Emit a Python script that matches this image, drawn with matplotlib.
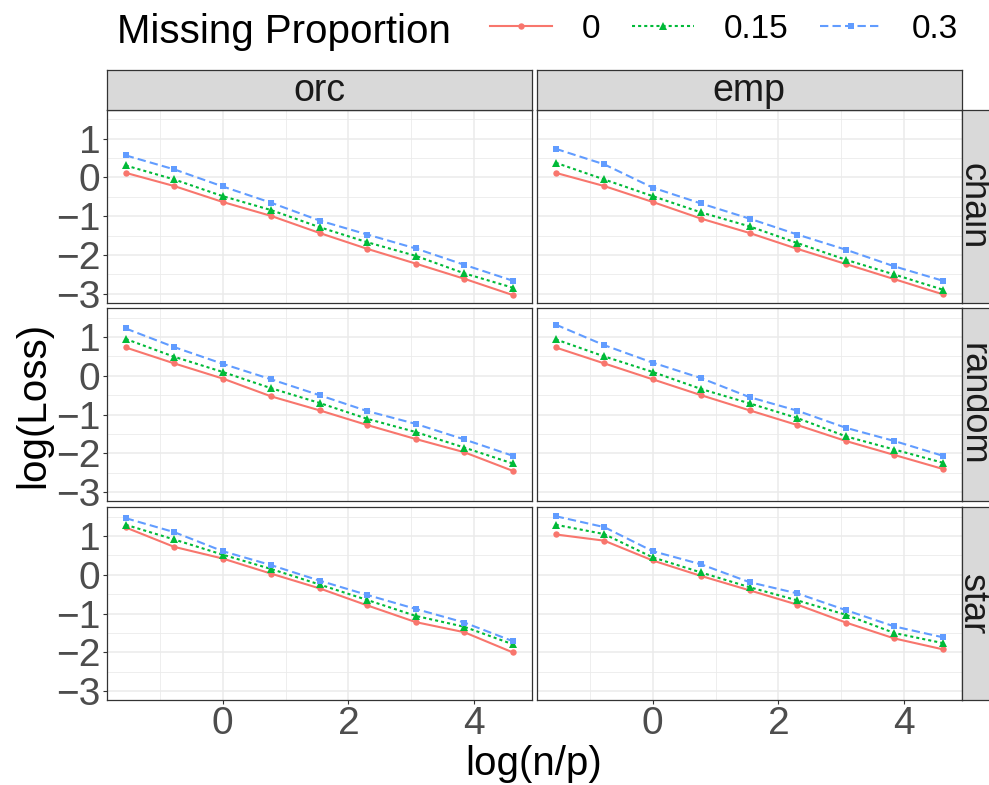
import matplotlib.pyplot as plt

plt.rcParams['font.family'] = ['Liberation Sans', 'DejaVu Sans']
plt.rcParams['lines.scale_dashes'] = False

# x positions: log(n/p)
log_np = [-1.54, -0.77, 0.0, 0.77, 1.54, 2.30, 3.07, 3.84, 4.61]

props = ['0', '0.15', '0.3']
methods = ['orc', 'emp']
graphs = ['chain', 'random', 'star']

# log(Loss), one list per missing proportion
chain_orc_0 = [0.12, -0.22, -0.63, -0.99, -1.43, -1.84, -2.22, -2.61, -3.03]
chain_orc_15 = [0.31, -0.05, -0.48, -0.84, -1.28, -1.67, -2.02, -2.47, -2.84]
chain_orc_30 = [0.57, 0.21, -0.23, -0.65, -1.11, -1.47, -1.83, -2.25, -2.66]

chain_emp_0 = [0.12, -0.22, -0.63, -1.06, -1.43, -1.84, -2.23, -2.62, -3.01]
chain_emp_15 = [0.38, -0.05, -0.48, -0.90, -1.26, -1.69, -2.12, -2.50, -2.89]
chain_emp_30 = [0.74, 0.34, -0.26, -0.67, -1.06, -1.47, -1.86, -2.29, -2.66]

random_orc_0 = [0.73, 0.32, -0.07, -0.53, -0.89, -1.27, -1.63, -1.97, -2.45]
random_orc_15 = [0.95, 0.49, 0.10, -0.32, -0.70, -1.11, -1.45, -1.85, -2.26]
random_orc_30 = [1.22, 0.74, 0.31, -0.09, -0.50, -0.91, -1.24, -1.64, -2.06]

random_emp_0 = [0.73, 0.32, -0.09, -0.50, -0.89, -1.27, -1.68, -2.04, -2.40]
random_emp_15 = [0.94, 0.50, 0.10, -0.34, -0.71, -1.09, -1.56, -1.90, -2.24]
random_emp_30 = [1.32, 0.79, 0.34, -0.06, -0.55, -0.90, -1.34, -1.68, -2.06]

star_orc_0 = [1.22, 0.72, 0.42, 0.03, -0.35, -0.79, -1.22, -1.48, -2.00]
star_orc_15 = [1.29, 0.91, 0.52, 0.15, -0.25, -0.65, -1.06, -1.34, -1.79]
star_orc_30 = [1.46, 1.10, 0.61, 0.25, -0.15, -0.52, -0.88, -1.23, -1.71]

star_emp_0 = [1.04, 0.88, 0.37, -0.03, -0.40, -0.77, -1.23, -1.64, -1.92]
star_emp_15 = [1.29, 1.05, 0.45, 0.06, -0.32, -0.66, -1.03, -1.50, -1.76]
star_emp_30 = [1.51, 1.23, 0.61, 0.27, -0.19, -0.48, -0.91, -1.33, -1.61]

series = {
    ('chain', 'orc'): [chain_orc_0, chain_orc_15, chain_orc_30],
    ('chain', 'emp'): [chain_emp_0, chain_emp_15, chain_emp_30],
    ('random', 'orc'): [random_orc_0, random_orc_15, random_orc_30],
    ('random', 'emp'): [random_emp_0, random_emp_15, random_emp_30],
    ('star', 'orc'): [star_orc_0, star_orc_15, star_orc_30],
    ('star', 'emp'): [star_emp_0, star_emp_15, star_emp_30],
}

colors = ['#F8766D', '#00BA38', '#619CFF']
markers = ['o', '^', 's']
msizes = [4.6, 5.6, 5.0]
styles = ['-', (0, (2.2, 2.2)), (0, (6.0, 3.0))]

W, H = 989, 785
fig = plt.figure(figsize=(W / 100, H / 100), dpi=100)


def box(left, top, w, h):
    # pixel box (from top-left) -> figure fraction
    return [left / W, 1 - (top + h) / H, w / W, h / H]


col_left = [106.7, 536.7]
col_w = 425
row_top = [110, 308.3, 507.3]
row_h = 192.8
border = '#333333'

handles = None
for i, g in enumerate(graphs):
    for j, m in enumerate(methods):
        ax = fig.add_axes(box(col_left[j], row_top[i], col_w, row_h))
        lines = []
        for k in range(3):
            ln, = ax.plot(log_np, series[(g, m)][k], color=colors[k],
                          linestyle=styles[k], linewidth=1.5,
                          marker=markers[k], markersize=msizes[k],
                          markeredgewidth=0)
            lines.append(ln)
        if handles is None:
            handles = lines
        ax.set_xlim(-1.842, 4.912)
        ax.set_ylim(-3.23, 1.74)
        ax.set_xticks([0, 2, 4])
        ax.set_xticks([-1, 1, 3], minor=True)
        ax.set_yticks([-3, -2, -1, 0, 1])
        ax.set_yticks([-2.5, -1.5, -0.5, 0.5, 1.5], minor=True)
        ax.grid(which='major', color='#EBEBEB', linewidth=1.1)
        ax.grid(which='minor', color='#EBEBEB', linewidth=0.6)
        ax.set_axisbelow(True)
        for s in ax.spines.values():
            s.set_color(border)
            s.set_linewidth(0.9)
        ax.tick_params(which='minor', length=0)
        ax.tick_params(which='major', length=3, width=0.8, color=border,
                       labelsize=28, labelcolor='#4D4D4D', pad=1.5)
        if i < 2:
            ax.tick_params(axis='x', which='major', labelbottom=False, length=0)
        if j == 1:
            ax.tick_params(axis='y', which='major', labelleft=False, length=0)

        # strips
        if i == 0:
            st = fig.add_axes(box(col_left[j], 70, col_w, 40))
            st.set_facecolor('#D9D9D9')
            st.set_xticks([])
            st.set_yticks([])
            for s in st.spines.values():
                s.set_color(border)
                s.set_linewidth(0.9)
            fig.text((col_left[j] + col_w / 2) / W, 1 - 91 / H, m,
                     fontsize=27, ha='center', va='center', color='#1A1A1A')
        if j == 1:
            st = fig.add_axes(box(961.7, row_top[i], 42, row_h))
            st.set_facecolor('#D9D9D9')
            st.set_xticks([])
            st.set_yticks([])
            for s in st.spines.values():
                s.set_color(border)
                s.set_linewidth(0.9)
            fig.text(973 / W, 1 - (row_top[i] + row_h / 2) / H, g,
                     fontsize=26, rotation=-90, ha='center', va='center',
                     color='#1A1A1A')

# legend on top
fig.text(117 / W, 1 - 43 / H, 'Missing Proportion', fontsize=29,
         ha='left', va='baseline')
fig.legend(handles, props, loc='center left',
           bbox_to_anchor=(490 / W, 1 - 29 / H), ncol=3, frameon=False,
           fontsize=24, handlelength=1.85, handletextpad=0.9,
           columnspacing=0.95, borderpad=0, borderaxespad=0, numpoints=1)

fig.text(534 / W, 1 - 775 / H, 'log(n/p)', fontsize=29, ha='center',
         va='baseline')
fig.text(33 / W, 1 - 405 / H, 'log(Loss)', fontsize=29, rotation=90,
         ha='center', va='center')

fig.savefig('out.png', dpi=100)
